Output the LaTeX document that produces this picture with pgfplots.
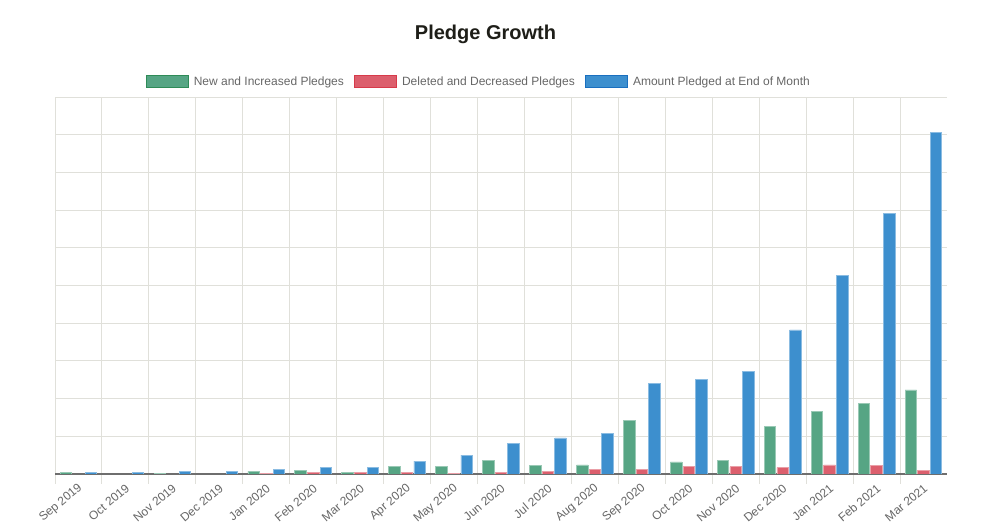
\documentclass[border=0pt]{standalone}
\usepackage{pgfplots}
\pgfplotsset{compat=1.18}
\usepackage{fontspec}
\setmainfont{Liberation Sans}
\definecolor{gfill}{RGB}{86,165,132}
\definecolor{gbord}{RGB}{46,139,87}
\definecolor{rfill}{RGB}{220,95,109}
\definecolor{rbord}{RGB}{215,58,74}
\definecolor{bfill}{RGB}{61,143,206}
\definecolor{bbord}{RGB}{26,111,191}
\definecolor{gridc}{RGB}{224,224,218}
\definecolor{basec}{RGB}{110,110,110}
\definecolor{textc}{RGB}{102,102,102}
\definecolor{titlec}{RGB}{30,30,24}
\begin{document}
\begin{tikzpicture}
\useasboundingbox (0,0) rectangle (985bp,529bp);
\begin{axis}[
  at={(55bp,55bp)}, anchor=south west,
  scale only axis, width=892bp, height=377bp,
  xmin=-0.5, xmax=18.5, ymin=0, ymax=10,
  ybar, bar width=11.5bp,
  axis line style={draw=none},
  xtick={0,...,18},
  xticklabels={Sep 2019,Oct 2019,Nov 2019,Dec 2019,Jan 2020,Feb 2020,Mar 2020,Apr 2020,May 2020,Jun 2020,Jul 2020,Aug 2020,Sep 2020,Oct 2020,Nov 2020,Dec 2020,Jan 2021,Feb 2021,Mar 2021},
  minor xtick={-0.5,0.5,...,17.5},
  xminorgrids=true,
  ytick={1,...,10}, yticklabels={},
  ymajorgrids=true,
  extra y ticks={0}, extra y tick labels={},
  extra y tick style={grid style={draw=basec, line width=1.1bp}},
  grid style={draw=gridc, line width=0.9bp},
  minor grid style={draw=gridc, line width=0.9bp},
  major tick length=0pt, minor tick length=10bp,
  tick align=outside, xtick pos=bottom,
  minor tick style={draw=gridc, line width=0.9bp},
  ytick style={draw=none},
  xticklabel style={rotate=40, anchor=east, font=\fontsize{12bp}{14bp}\selectfont, text=textc, yshift=-11bp, xshift=-3bp},
  title={Pledge Growth},
  title style={font=\fontsize{20bp}{24bp}\selectfont\bfseries, text=titlec, at={(0.4826,1.151)}, anchor=center},
  legend style={draw=none, fill=none, at={(0.098,1.041)}, anchor=west, legend columns=3,
    font=\fontsize{12bp}{14bp}\selectfont, text=textc,
    /tikz/every even column/.append style={column sep=8bp}},
  legend cell align=left,
]
\addplot[bar shift=-12.6bp, fill=gfill, draw=gfill!60!white, line width=0.8bp,
  legend image code/.code={\draw[fill=gfill, draw=gbord, line width=1.6bp] (0bp,-6bp) rectangle (42bp,6bp); \path (45bp,0bp);}]
 coordinates {(0,0.045) (2,0.02) (4,0.07) (5,0.10) (6,0.045) (7,0.19) (8,0.19) (9,0.35) (10,0.22) (11,0.24) (12,1.41) (13,0.32) (14,0.37) (15,1.27) (16,1.67) (17,1.86) (18,2.23)};
\addlegendentry{New and Increased Pledges}
\addplot[bar shift=0bp, fill=rfill, draw=rfill!60!white, line width=0.8bp,
  legend image code/.code={\draw[fill=rfill, draw=rbord, line width=1.6bp] (0bp,-6bp) rectangle (42bp,6bp); \path (45bp,0bp);}]
 coordinates {(4,0.01) (5,0.045) (6,0.045) (7,0.045) (8,0.01) (9,0.05) (10,0.07) (11,0.11) (12,0.11) (13,0.21) (14,0.19) (15,0.17) (16,0.24) (17,0.23) (18,0.09)};
\addlegendentry{Deleted and Decreased Pledges}
\addplot[bar shift=12.6bp, fill=bfill, draw=bfill!60!white, line width=0.8bp,
  legend image code/.code={\draw[fill=bfill, draw=bbord, line width=1.6bp] (0bp,-6bp) rectangle (42bp,6bp); \path (45bp,0bp);}]
 coordinates {(0,0.045) (1,0.045) (2,0.07) (3,0.07) (4,0.115) (5,0.17) (6,0.18) (7,0.34) (8,0.50) (9,0.80) (10,0.955) (11,1.08) (12,2.40) (13,2.51) (14,2.71) (15,3.82) (16,5.26) (17,6.90) (18,9.05)};
\addlegendentry{Amount Pledged at End of Month}
\end{axis}
\end{tikzpicture}
\end{document}
